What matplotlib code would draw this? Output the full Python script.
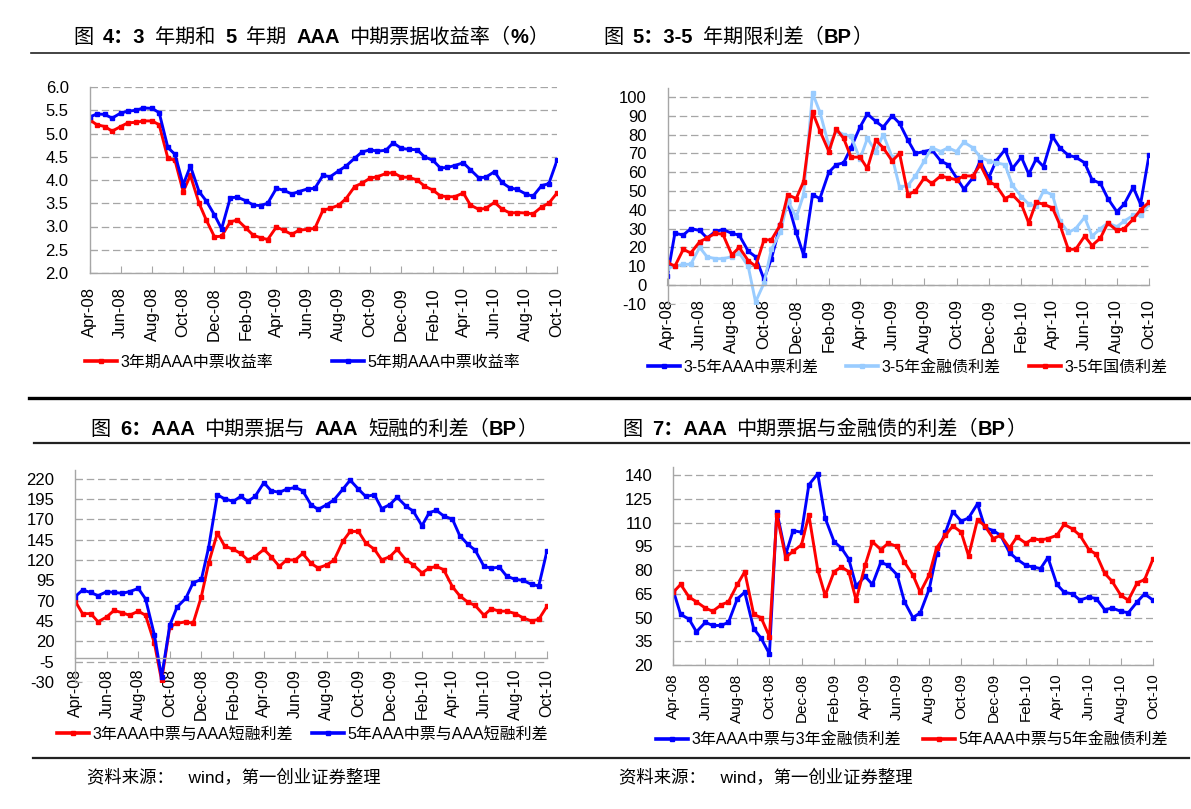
import matplotlib
matplotlib.use("Agg")
import matplotlib.dates as mdates
import matplotlib.pyplot as plt
import numpy as np
import pandas as pd
from matplotlib.lines import Line2D
from matplotlib.offsetbox import AnchoredOffsetbox, DrawingArea, HPacker, TextArea

W, H = 1191, 809
CJK = "Noto Sans CJK SC"
plt.rcParams["font.family"] = ["Liberation Sans", CJK]

BLUE = "#0000FF"
RED = "#FF0000"
LIGHT_BLUE = "#99CCFF"
GRID = "#A6A6A6"

# semi-monthly observation dates, Apr-08 .. Oct-10
DATES = pd.date_range("2008-04-01", "2010-10-01", freq="SMS")

# Fig 4: AAA MTN yields (%)
YIELD_3Y = [5.30, 5.19, 5.15, 5.05, 5.15, 5.23, 5.24, 5.27, 5.27, 5.19,
            4.47, 4.42, 3.75, 4.10, 3.50, 3.14, 2.78, 2.79, 3.10, 3.14,
            2.96, 2.81, 2.76, 2.72, 2.99, 2.92, 2.83, 2.92, 2.94, 2.96,
            3.35, 3.39, 3.46, 3.60, 3.86, 3.93, 4.04, 4.07, 4.14, 4.16,
            4.06, 4.06, 4.00, 3.87, 3.78, 3.66, 3.64, 3.64, 3.72, 3.46,
            3.37, 3.39, 3.52, 3.38, 3.29, 3.30, 3.29, 3.27, 3.42, 3.50, 3.72]
YIELD_5Y = [5.35, 5.42, 5.41, 5.33, 5.44, 5.48, 5.50, 5.55, 5.54, 5.45,
            4.70, 4.55, 3.90, 4.30, 3.75, 3.55, 3.25, 2.95, 3.62, 3.63,
            3.55, 3.46, 3.45, 3.50, 3.82, 3.78, 3.70, 3.75, 3.81, 3.82,
            4.10, 4.07, 4.20, 4.30, 4.47, 4.60, 4.65, 4.62, 4.64, 4.80,
            4.68, 4.66, 4.65, 4.50, 4.42, 4.26, 4.27, 4.31, 4.37, 4.22,
            4.05, 4.06, 4.18, 3.95, 3.83, 3.80, 3.70, 3.65, 3.88, 3.92, 4.42]

# Fig 5: 3-5y term spreads (BP)
TERM_MTN = [5, 27.5, 26.6, 30, 29, 25, 28.5, 29.5, 27.5, 26.5,
            18, 15, 3, 14, 32, 44, 28, 16, 48, 46,
            60, 64, 65, 73, 84, 91, 87, 84, 90, 86,
            77, 70, 71, 72, 66, 64, 57, 51, 57, 66,
            57, 66, 72, 62, 68, 59, 67, 63, 79, 73,
            69, 68, 65, 56, 54, 46, 39, 43, 52, 43, 69]
TERM_FIN = [9, 10, 11, 11, 20, 15, 14, 14, 15, 17,
            10, -9, 1, 19, 28, 45, 36, 48, 102, 92,
            74, 82, 80, 79, 67, 78, 71, 80, 68, 52,
            53, 58, 66, 73, 71, 73, 71, 76, 73, 68,
            66, 65, 64, 53, 47, 43, 42, 50, 48, 34,
            28, 30, 36, 26, 30, 33, 31, 34, 37, 37, 43]
TERM_GOV = [12, 10, 19, 17, 23, 25, 27.5, 27, 16, 20,
            13, 10, 24, 24, 32, 48, 46, 55, 92, 82,
            71, 83, 78, 68, 68, 62, 77, 73, 66, 70,
            48, 50, 57, 54, 58, 57, 56, 58, 58, 64,
            55, 53, 46, 48, 43, 33, 44, 43, 41, 32,
            19, 19, 26, 21, 25, 33, 29, 30, 35, 40, 44]

# Fig 6: MTN vs AAA CP spreads (BP)
CP_3Y = [69, 54, 54, 44, 50, 58, 55, 52, 57, 52,
         18, -28, 38, 42, 44, 42, 75, 116, 153, 137,
         133, 128, 120, 124, 133, 124, 112, 120, 120, 128,
         116, 110, 114, 120, 143, 155, 155, 141, 133, 120,
         124, 133, 120, 114, 104, 110, 112, 108, 87, 76,
         68, 64, 52, 60, 57, 57, 54, 49, 45, 47, 63]
CP_5Y = [75, 83, 80, 76, 81, 80, 79, 81, 85, 72,
         28, -24, 40, 62, 73, 92, 96, 135, 200, 195,
         192, 198, 192, 198, 215, 205, 203, 207, 209, 205,
         188, 182, 188, 194, 207, 218, 207, 198, 200, 183,
         188, 197, 186, 180, 162, 178, 181, 174, 170, 150,
         139, 132, 112, 110, 111, 100, 96, 95, 90, 88, 131]

# Fig 7: MTN vs financial bond spreads (BP)
FIN_3Y = [67, 52, 49, 41, 47, 45, 45, 47, 62, 66,
          43, 37, 27, 117, 90, 105, 104, 134, 141, 113,
          98, 94, 87, 70, 76, 71, 85, 83, 77, 60,
          50, 53, 68, 90, 104, 117, 111, 113, 122, 107,
          105, 102, 91, 87, 83, 82, 81, 88, 71, 66,
          65, 61, 63, 62, 55, 56, 54, 53, 60, 65, 61]
FIN_5Y = [66, 71, 63, 60, 56, 54, 58, 60, 71, 79,
          52, 50, 38, 115, 88, 92, 96, 115, 80, 64,
          79, 82, 79, 61, 83, 98, 93, 97, 95, 85,
          77, 66, 77, 94, 102, 108, 104, 89, 112, 108,
          100, 102, 94, 101, 97, 100, 99, 100, 102, 109,
          106, 102, 93, 90, 78, 73, 64, 61, 72, 74, 87]


def add_axes_px(fig, x0, y0, x1, y1):
    return fig.add_axes([x0 / W, 1 - y1 / H, (x1 - x0) / W, (y1 - y0) / H])


def style_axes(ax, yticks, ylim, fmt, zero_axis=False, xpad=10, xsize=12):
    # move the spine first: set_position resets the tick objects
    if zero_axis:
        ax.spines["bottom"].set_position(("data", 0))
    ax.set_xlim(DATES[0], DATES[-1])
    ax.set_ylim(*ylim)
    ax.set_yticks(yticks)
    ax.set_yticklabels([fmt.format(v) for v in yticks],
                       family=["Liberation Sans Narrow", "Liberation Sans"])
    ax.xaxis.set_major_locator(mdates.MonthLocator(bymonth=[2, 4, 6, 8, 10, 12]))
    ax.xaxis.set_major_formatter(mdates.DateFormatter("%b-%y"))
    ax.tick_params(axis="x", direction="in", length=5, color=GRID, pad=xpad,
                   labelsize=xsize, labelrotation=90)
    ax.tick_params(axis="y", direction="in", length=5, color=GRID, pad=15, labelsize=12)
    for s in ("top", "right"):
        ax.spines[s].set_visible(False)
    for s in ("left", "bottom"):
        ax.spines[s].set_color(GRID)
        ax.spines[s].set_linewidth(1.0)
    ax.yaxis.grid(True, color=GRID, linestyle=(0, (6, 3)), linewidth=0.9)
    ax.set_axisbelow(True)
    ax.patch.set_alpha(0)


def plot_series(ax, values, color):
    ax.plot(DATES, values, color=color, lw=2.1, marker="s", ms=2.2,
            mec=color, mfc=color, solid_joinstyle="round")


def draw_title(fig, parts, x, y):
    children = []
    for text, bold in parts:
        if text == " ":
            children.append(DrawingArea(7, 1))
        else:
            children.append(TextArea(text, textprops=dict(
                fontsize=14.5, fontweight="bold" if bold else "normal",
                family=["Liberation Sans", CJK])))
    box = HPacker(children=children, align="baseline", pad=0, sep=0)
    anchored = AnchoredOffsetbox(loc="center left", child=box, pad=0, borderpad=0,
                                 frameon=False, bbox_to_anchor=(x / W, 1 - y / H),
                                 bbox_transform=fig.transFigure)
    fig.add_artist(anchored)


def legend_entry(fig, color, label, x, y):
    h = Line2D([], [], color=color, lw=2.6, marker="s", ms=2.5, mec=color, mfc=color)
    fig.legend(handles=[h], labels=[label], loc="center left",
               bbox_to_anchor=(x / W, 1 - y / H), frameon=False, borderpad=0,
               borderaxespad=0, handlelength=2.0, handletextpad=0.2,
               fontsize=11.5, numpoints=1)


def hline(fig, y, x0, x1, lw, color="#222222"):
    fig.add_artist(Line2D([x0 / W, x1 / W], [1 - y / H, 1 - y / H],
                          transform=fig.transFigure, color=color, lw=lw))


def main():
    fig = plt.figure(figsize=(W / 100, H / 100), dpi=100)
    fig.patch.set_facecolor("white")

    # page rules
    hline(fig, 52.5, 31, 1189, 1.2)
    hline(fig, 398, 29, 1189, 2.4, "#000000")
    hline(fig, 443, 34, 1189, 1.6)
    hline(fig, 757.5, 33, 1189, 1.6)

    # Fig 4
    ax1 = add_axes_px(fig, 89.5, 87, 557, 273)
    plot_series(ax1, YIELD_3Y, RED)
    plot_series(ax1, YIELD_5Y, BLUE)
    style_axes(ax1, np.arange(2.0, 6.01, 0.5), (2.0, 6.0), "{:.1f}")
    draw_title(fig, [("图", False), (" ", False), ("4：3", True), (" ", False),
                     ("年期和", False), (" ", False), ("5", True), (" ", False),
                     ("年期", False), (" ", False), ("AAA", True), (" ", False),
                     ("中期票据收益率（", False), ("%", True), ("）", False)], 73, 37)
    legend_entry(fig, RED, "3年期AAA中票收益率", 85, 362)
    legend_entry(fig, BLUE, "5年期AAA中票收益率", 332, 362)

    # Fig 5
    ax2 = add_axes_px(fig, 667.5, 87.6, 1149, 303.8)
    plot_series(ax2, TERM_MTN, BLUE)
    plot_series(ax2, TERM_FIN, LIGHT_BLUE)
    plot_series(ax2, TERM_GOV, RED)
    style_axes(ax2, list(range(-10, 101, 10)), (-10, 105), "{:d}", zero_axis=True, xpad=10)
    draw_title(fig, [("图", False), (" ", False), ("5：3-5", True), (" ", False),
                     ("年期限利差（", False), ("BP", True), ("）", False)], 603, 37)
    legend_entry(fig, BLUE, "3-5年AAA中票利差", 648, 367)
    legend_entry(fig, LIGHT_BLUE, "3-5年金融债利差", 846, 367)
    legend_entry(fig, RED, "3-5年国债利差", 1029, 367)

    # Fig 6
    ax3 = add_axes_px(fig, 75.3, 470.4, 547, 682)
    plot_series(ax3, CP_3Y, RED)
    plot_series(ax3, CP_5Y, BLUE)
    style_axes(ax3, list(range(-30, 221, 25)), (-30, 230), "{:d}", zero_axis=True,
               xpad=8, xsize=11.5)
    draw_title(fig, [("图", False), (" ", False), ("6：AAA", True), (" ", False),
                     ("中期票据与", False), (" ", False), ("AAA", True), (" ", False),
                     ("短融的利差（", False), ("BP", True), ("）", False)], 90, 429)
    legend_entry(fig, RED, "3年AAA中票与AAA短融利差", 57, 734)
    legend_entry(fig, BLUE, "5年AAA中票与AAA短融利差", 312, 734)

    # Fig 7
    ax4 = add_axes_px(fig, 673.3, 467.4, 1153, 665)
    plot_series(ax4, FIN_3Y, BLUE)
    plot_series(ax4, FIN_5Y, RED)
    style_axes(ax4, list(range(20, 141, 15)), (20, 145), "{:d}", xpad=6, xsize=11)
    draw_title(fig, [("图", False), (" ", False), ("7：AAA", True), (" ", False),
                     ("中期票据与金融债的利差（", False), ("BP", True), ("）", False)], 622, 429)
    legend_entry(fig, BLUE, "3年AAA中票与3年金融债利差", 656, 740)
    legend_entry(fig, RED, "5年AAA中票与5年金融债利差", 923, 740)

    src = "资料来源：   wind，第一创业证券整理"
    fig.text(87 / W, 1 - 778 / H, src, fontsize=12.5, va="center")
    fig.text(619 / W, 1 - 778 / H, src, fontsize=12.5, va="center")

    fig.savefig("out.png", dpi=100, facecolor="white")
    plt.close(fig)


if __name__ == "__main__":
    main()
